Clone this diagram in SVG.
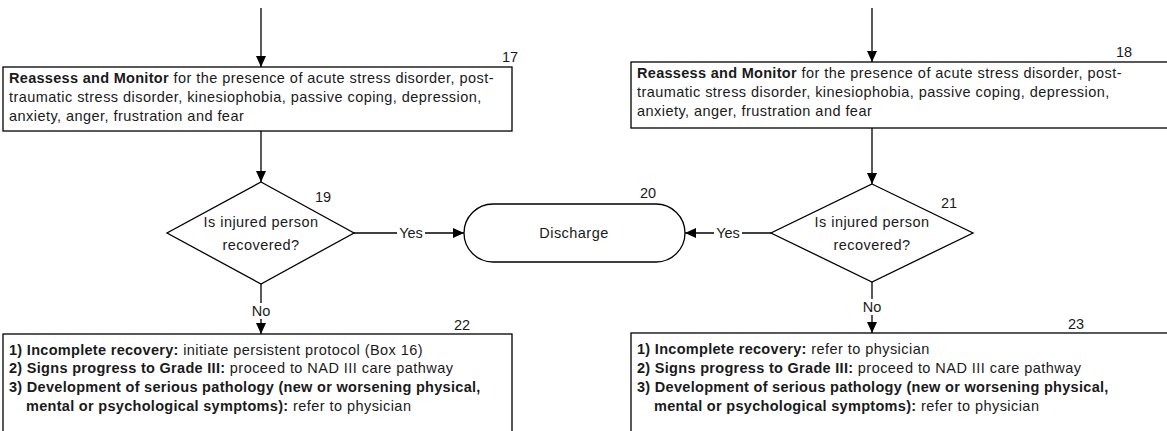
<svg xmlns="http://www.w3.org/2000/svg" width="1167" height="431" viewBox="0 0 1167 431">
<style>
.box{fill:#fff;stroke:#000;stroke-width:1.3}
.ln{fill:none;stroke:#000;stroke-width:1.3}
.t{font-family:"Liberation Sans",Arial,sans-serif;font-size:14.5px;letter-spacing:0.45px;fill:#1a1a1a}
.b{font-weight:bold;letter-spacing:0.3px}
.c{text-anchor:middle}
.n{font-family:"Liberation Sans",Arial,sans-serif;font-size:14.5px;fill:#1a1a1a;text-anchor:middle}
.lbl{font-family:"Liberation Sans",Arial,sans-serif;font-size:14.5px;fill:#1a1a1a;text-anchor:middle}
</style>
<defs>
<marker id="ah" markerUnits="userSpaceOnUse" markerWidth="12" markerHeight="10" refX="11" refY="5" orient="auto">
<path d="M0,0 L11,5 L0,10 Z" fill="#000"/>
</marker>
</defs>
<rect width="1167" height="431" fill="#fff"/>
<g id="connectors">
<line class="ln" x1="261" y1="8" x2="261" y2="67" marker-end="url(#ah)"/>
<line class="ln" x1="872" y1="8" x2="872" y2="62" marker-end="url(#ah)"/>
<line class="ln" x1="261" y1="131" x2="261" y2="182" marker-end="url(#ah)"/>
<line class="ln" x1="872" y1="128" x2="872" y2="184" marker-end="url(#ah)"/>
<line class="ln" x1="354" y1="233" x2="464" y2="233" marker-end="url(#ah)"/>
<line class="ln" x1="771" y1="233" x2="685" y2="233" marker-end="url(#ah)"/>
<line class="ln" x1="261" y1="284" x2="261" y2="334" marker-end="url(#ah)"/>
<line class="ln" x1="872" y1="282" x2="872" y2="333" marker-end="url(#ah)"/>
<rect x="397" y="225" width="28" height="16" fill="#fff"/>
<text class="lbl" x="411" y="238">Yes</text>
<rect x="714" y="225" width="28" height="16" fill="#fff"/>
<text class="lbl" x="728" y="238">Yes</text>
<rect x="249" y="303" width="24" height="16" fill="#fff"/>
<text class="lbl" x="261" y="316">No</text>
<rect x="860" y="299" width="24" height="16" fill="#fff"/>
<text class="lbl" x="872" y="312">No</text>
</g>
<g id="node17">
<rect class="box" x="3" y="67" width="509" height="64"/>
<text class="n" x="510" y="62">17</text>
<text class="t" x="9" y="83"><tspan class="b">Reassess and Monitor</tspan> for the presence of acute stress disorder, post-</text>
<text class="t" x="9" y="102">traumatic stress disorder, kinesiophobia, passive coping, depression,</text>
<text class="t" x="9" y="121">anxiety, anger, frustration and fear</text>
</g>
<g id="node18">
<rect class="box" x="631" y="62" width="540" height="66"/>
<text class="n" x="1124" y="57">18</text>
<text class="t" x="637" y="78"><tspan class="b">Reassess and Monitor</tspan> for the presence of acute stress disorder, post-</text>
<text class="t" x="637" y="97">traumatic stress disorder, kinesiophobia, passive coping, depression,</text>
<text class="t" x="637" y="116">anxiety, anger, frustration and fear</text>
</g>
<g id="node19">
<polygon class="box" points="261,182 354,233 261,284 167,233"/>
<text class="n" x="323" y="202">19</text>
<text class="t c" x="261" y="227">Is injured person</text>
<text class="t c" x="261" y="250">recovered?</text>
</g>
<g id="node20">
<rect class="box" x="464" y="204" width="221" height="58" rx="29" ry="29"/>
<text class="n" x="648" y="198">20</text>
<text class="t c" x="574" y="238">Discharge</text>
</g>
<g id="node21">
<polygon class="box" points="872,184 973,233 872,282 771,233"/>
<text class="n" x="949" y="208">21</text>
<text class="t c" x="872" y="227">Is injured person</text>
<text class="t c" x="872" y="250">recovered?</text>
</g>
<g id="node22">
<rect class="box" x="3" y="334" width="509" height="110"/>
<text class="n" x="462" y="330">22</text>
<text class="t" x="9" y="355"><tspan class="b">1) Incomplete recovery:</tspan> initiate persistent protocol (Box 16)</text>
<text class="t" x="9" y="373"><tspan class="b">2) Signs progress to Grade III:</tspan> proceed to NAD III care pathway</text>
<text class="t" x="9" y="392"><tspan class="b">3) Development of serious pathology (new or worsening physical,</tspan></text>
<text class="t" x="26" y="411"><tspan class="b">mental or psychological symptoms):</tspan> refer to physician</text>
</g>
<g id="node23">
<rect class="box" x="631" y="333" width="540" height="111"/>
<text class="n" x="1076" y="329">23</text>
<text class="t" x="637" y="354"><tspan class="b">1) Incomplete recovery:</tspan> refer to physician</text>
<text class="t" x="637" y="373"><tspan class="b">2) Signs progress to Grade III:</tspan> proceed to NAD III care pathway</text>
<text class="t" x="637" y="392"><tspan class="b">3) Development of serious pathology (new or worsening physical,</tspan></text>
<text class="t" x="654" y="411"><tspan class="b">mental or psychological symptoms):</tspan> refer to physician</text>
</g>
</svg>
